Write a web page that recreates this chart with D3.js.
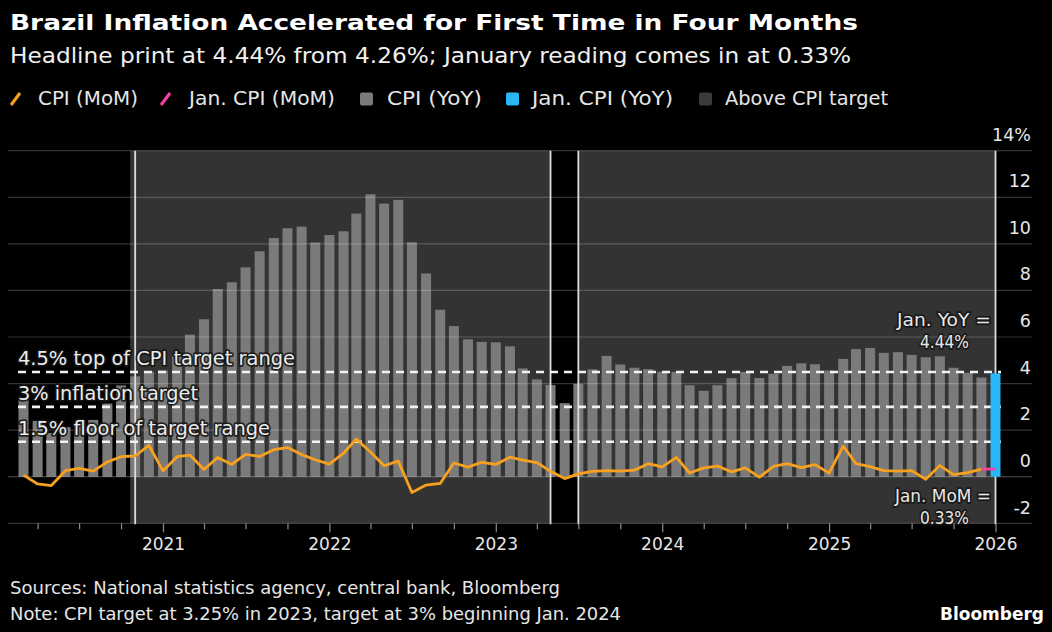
<!DOCTYPE html>
<html>
<head>
<meta charset="utf-8">
<script src="https://cdn.jsdelivr.net/npm/d3@7"></script>
<style>
  html, body { margin: 0; padding: 0; background: #000; }
  svg { display: block; font-family: "DejaVu Sans", sans-serif; }
</style>
</head>
<body>
<svg id="chart" width="1052" height="632"></svg>
<script>
// ---------------- DATA ----------------
const firstMonth = new Date(2020, 2, 1);   // Mar 2020
const lastMonth  = new Date(2025, 11, 1);  // Dec 2025
const cpiYoY = [
  3.30, 2.40, 1.88, 2.13, 2.31, 2.44, 3.14, 3.92, 4.31, 4.52,
  4.56, 5.20, 6.10, 6.76, 8.06, 8.35, 8.99, 9.68, 10.25, 10.67, 10.74, 10.06,
  10.38, 10.54, 11.30, 12.13, 11.73, 11.89, 10.07, 8.73, 7.17, 6.47, 5.90, 5.79,
  5.77, 5.60, 4.65, 4.18, 3.94, 3.16, 3.99, 4.61, 5.19, 4.82, 4.68, 4.62,
  4.51, 4.50, 3.93, 3.69, 3.93, 4.23, 4.50, 4.24, 4.42, 4.76, 4.87, 4.83,
  4.56, 5.06, 5.48, 5.53, 5.32, 5.35, 5.23, 5.13, 5.17, 4.68, 4.46, 4.26
];
const cpiMoM = [
  0.07, -0.31, -0.38, 0.26, 0.36, 0.24, 0.64, 0.86, 0.89, 1.35,
  0.25, 0.86, 0.93, 0.31, 0.83, 0.53, 0.96, 0.87, 1.16, 1.25, 0.95, 0.73,
  0.54, 1.01, 1.62, 1.06, 0.47, 0.67, -0.68, -0.36, -0.29, 0.59, 0.41, 0.62,
  0.53, 0.84, 0.71, 0.61, 0.23, -0.08, 0.12, 0.23, 0.26, 0.24, 0.28, 0.56,
  0.42, 0.83, 0.16, 0.38, 0.46, 0.21, 0.38, -0.02, 0.44, 0.56, 0.39, 0.52,
  0.16, 1.31, 0.56, 0.43, 0.26, 0.24, 0.26, -0.11, 0.48, 0.09, 0.18, 0.33
];
const janDate = new Date(2026, 0, 1);
const janYoY = 4.44;
const janMoM = 0.33;

// Periods where CPI was above target (shaded)
const abovePeriods = [
  [new Date(2020, 9, 21), new Date(2023, 4, 1)],
  [new Date(2023, 6, 1), new Date(2026, 0, 1)]
];
const periodEdges = [new Date(2020, 10, 1), new Date(2023, 4, 1), new Date(2023, 6, 1), new Date(2026, 0, 1)];

const refLines = [
  { value: 4.5, label: "4.5% top of CPI target range", len: 277 },
  { value: 3.0, label: "3% inflation target", len: 180 },
  { value: 1.5, label: "1.5% floor of target range", len: 252 }
];
const yTicks = [-2, 0, 2, 4, 6, 8, 10, 12, 14];
const yearTicks = [2021, 2022, 2023, 2024, 2025, 2026];

const title = "Brazil Inflation Accelerated for First Time in Four Months";
const subtitle = "Headline print at 4.44% from 4.26%; January reading comes in at 0.33%";
const source = "Sources: National statistics agency, central bank, Bloomberg";
const note = "Note: CPI target at 3.25% in 2023, target at 3% beginning Jan. 2024";

const legendItems = [
  { type: "line", color: "#f7a11e", label: "CPI (MoM)", ix: 10, tx: 38, len: 100 },
  { type: "line", color: "#f43fa5", label: "Jan. CPI (MoM)", ix: 160, tx: 189, len: 146 },
  { type: "rect", color: "#7a7a7a", label: "CPI (YoY)", ix: 360, tx: 387, len: 95 },
  { type: "rect", color: "#2bb7f5", label: "Jan. CPI (YoY)", ix: 506, tx: 532, len: 141 },
  { type: "rect", color: "#3a3a3a", label: "Above CPI target", ix: 699, tx: 725, len: 163 }
];

// ---------------- COLORS ----------------
const COL = {
  shade: "#333333", bar: "#7a7a7a", mom: "#f7a11e", janMom: "#f43fa5",
  janBar: "#2bb7f5", text: "#e8e8e8"
};

// ---------------- SETUP ----------------
const months = d3.timeMonth.range(firstMonth, d3.timeMonth.offset(lastMonth, 1));
const data = months.map((d, i) => ({ date: d, yoy: cpiYoY[i], mom: cpiMoM[i] }));

const svg = d3.select("#chart");
svg.append("rect").attr("width", 1052).attr("height", 632).attr("fill", "#000");

const x = d3.scaleTime().domain([new Date(2021, 0, 1), new Date(2026, 0, 1)]).range([163, 995.5]);
const y = d3.scaleLinear().domain([-2, 14]).range([523.3, 150.7]);
const plotLeft = 8, gridRight = 1032;
const barW = 10;

function haloText(g, txt, xx, yy, opts) {
  const t = g.append("text").attr("x", xx).attr("y", yy).text(txt)
    .attr("fill", opts.fill || COL.text)
    .attr("font-size", opts.size || 19)
    .attr("text-anchor", opts.anchor || "start");
  if (opts.len) t.attr("textLength", opts.len).attr("lengthAdjust", "spacingAndGlyphs");
  if (opts.weight) t.attr("font-weight", opts.weight);
  if (opts.halo) t.attr("stroke", "rgba(20,20,20,0.85)").attr("stroke-width", 3.5)
    .attr("paint-order", "stroke").attr("stroke-linejoin", "round");
  return t;
}

// Titles
haloText(svg, title, 10, 30, { size: 22, weight: "bold", fill: "#ffffff", len: 848 });
haloText(svg, subtitle, 10, 63, { size: 22, fill: "#f0f0f0", len: 841 });

// Legend
const lg = svg.append("g");
legendItems.forEach(it => {
  if (it.type === "line") {
    lg.append("line").attr("x1", it.ix + 1).attr("y1", 105).attr("x2", it.ix + 10).attr("y2", 93)
      .attr("stroke", it.color).attr("stroke-width", 3.2).attr("stroke-linecap", "butt");
  } else {
    lg.append("rect").attr("x", it.ix).attr("y", 92.5).attr("width", 13).attr("height", 13)
      .attr("rx", 2).attr("fill", it.color);
  }
  haloText(lg, it.label, it.tx, 105, { size: 19, fill: "#e6e6e6", len: it.len });
});

// Shaded periods
svg.append("g").selectAll("rect").data(abovePeriods).join("rect")
  .attr("x", d => x(d[0])).attr("width", d => x(d[1]) - x(d[0]))
  .attr("y", y(14)).attr("height", y(-2) - y(14))
  .attr("fill", COL.shade);

// Bars YoY
svg.append("g").selectAll("rect").data(data).join("rect")
  .attr("x", d => x(d.date) - barW / 2).attr("width", barW)
  .attr("y", d => y(Math.max(0, d.yoy))).attr("height", d => Math.abs(y(d.yoy) - y(0)))
  .attr("fill", COL.bar);

// Gridlines
svg.append("g").selectAll("line").data(yTicks).join("line")
  .attr("x1", plotLeft).attr("x2", gridRight)
  .attr("y1", d => y(d)).attr("y2", d => y(d))
  .attr("stroke", d => d === 0 ? "rgba(255,255,255,0.32)" : "rgba(255,255,255,0.2)")
  .attr("stroke-width", 1.2);

// Period edge lines
svg.append("g").selectAll("line").data(periodEdges).join("line")
  .attr("x1", d => x(d)).attr("x2", d => x(d))
  .attr("y1", y(14)).attr("y2", y(-2) + 1)
  .attr("stroke", "#dcdcdc").attr("stroke-width", 1.8);

// Reference dashed lines
const rg = svg.append("g");
rg.selectAll("line").data(refLines).join("line")
  .attr("x1", 18).attr("x2", 1001)
  .attr("y1", d => y(d.value)).attr("y2", d => y(d.value))
  .attr("stroke", "#f2f2f2").attr("stroke-width", 2.6)
  .attr("stroke-dasharray", "8,6");

// Jan YoY bar
svg.append("rect")
  .attr("x", x(janDate) - barW / 2).attr("width", barW)
  .attr("y", y(janYoY)).attr("height", y(0) - y(janYoY))
  .attr("fill", COL.janBar);

// MoM line
const line = d3.line().x(d => x(d.date)).y(d => y(d.mom));
svg.append("path").datum(data).attr("d", line)
  .attr("fill", "none").attr("stroke", COL.mom).attr("stroke-width", 2.8)
  .attr("stroke-linejoin", "round");
const lastPt = data[data.length - 1];
svg.append("path").datum([lastPt, { date: janDate, mom: janMoM }]).attr("d", line)
  .attr("fill", "none").attr("stroke", COL.janMom).attr("stroke-width", 2.8);

// Reference labels
refLines.forEach(d => {
  haloText(rg, d.label, 18, y(d.value) - 7, { size: 19, fill: "#ececec", len: d.len, halo: true });
});

// Annotations
const ag = svg.append("g");
haloText(ag, "Jan. YoY =", 991, 326, { size: 18, anchor: "end", len: 94, halo: true });
haloText(ag, "4.44%", 944.5, 348, { size: 18, anchor: "middle", len: 49, halo: true });
haloText(ag, "Jan. MoM =", 991, 502, { size: 18, anchor: "end", len: 96, halo: true });
haloText(ag, "0.33%", 944.5, 524, { size: 18, anchor: "middle", len: 49, halo: true });

// Y axis labels
const yg = svg.append("g");
yg.selectAll("text").data(yTicks).join("text")
  .attr("x", 1031).attr("y", d => y(d) - (d === -2 ? 9 : 10))
  .attr("text-anchor", "end").attr("font-size", 17.5).attr("fill", "#e6e6e6")
  .text(d => d === 14 ? "14%" : String(d));

// X axis
const quarterTicks = d3.timeMonth.every(3).range(new Date(2020, 3, 1), new Date(2026, 0, 1))
  .filter(d => d.getMonth() !== 0);
const xMinor = d3.axisBottom(x).tickValues(quarterTicks).tickSize(6).tickFormat("");
const xMajor = d3.axisBottom(x).tickValues(yearTicks.map(yv => new Date(yv, 0, 1)))
  .tickSize(9).tickPadding(6).tickFormat(d3.timeFormat("%Y"));
const gMinor = svg.append("g").attr("transform", `translate(0,${y(-2)})`).call(xMinor);
const gMajor = svg.append("g").attr("transform", `translate(0,${y(-2)})`).call(xMajor);
[gMinor, gMajor].forEach(g => {
  g.select(".domain").remove();
  g.selectAll(".tick line").attr("stroke", "#8a8a8a").attr("stroke-width", 1.2);
});
gMajor.selectAll(".tick text").attr("fill", "#e6e6e6").attr("font-size", 17)
  .attr("font-family", "DejaVu Sans, sans-serif");

// Footer
haloText(svg, source, 10, 594, { size: 17, fill: "#e6e6e6", len: 550 });
haloText(svg, note, 10, 620, { size: 17, fill: "#e6e6e6", len: 611 });
haloText(svg, "Bloomberg", 1044, 620, { size: 17, weight: "bold", fill: "#ffffff", anchor: "end", len: 104 });
</script>
</body>
</html>
